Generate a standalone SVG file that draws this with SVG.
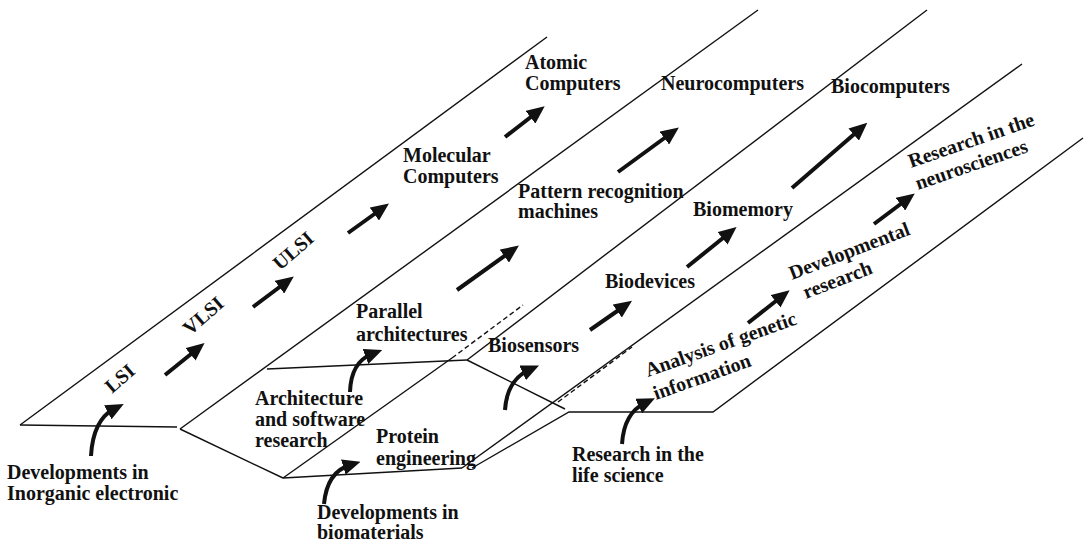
<svg xmlns="http://www.w3.org/2000/svg" width="1084" height="542" viewBox="0 0 1084 542">
<style>
.t{font-family:"Liberation Serif","Times New Roman",serif;font-weight:bold;font-size:20px;fill:#111}
.ln{stroke:#111;stroke-width:1.4;fill:none}
.dash{stroke:#111;stroke-width:1.4;fill:none;stroke-dasharray:5,3}
.ar{stroke:#111;stroke-width:4;fill:none;marker-end:url(#h)}
</style>
<defs>
<marker id="h" markerUnits="userSpaceOnUse" markerWidth="18" markerHeight="16" viewBox="0 0 18 16" refX="7" refY="8" orient="auto">
<path d="M0,0 L18,8 L0,16 z" fill="#111"/>
</marker>
</defs>
<rect width="1084" height="542" fill="#fff"/>
<g id="frame">
<line class="ln" x1="20" y1="425" x2="547" y2="37"/>
<line class="ln" x1="20" y1="425" x2="177" y2="427"/>
<line class="ln" x1="180" y1="429" x2="758" y2="10"/>
<line class="ln" x1="180" y1="429" x2="283" y2="478"/>
<line class="ln" x1="283" y1="478" x2="462" y2="468"/>
<line class="ln" x1="267" y1="369" x2="467" y2="360"/>
<line class="ln" x1="283" y1="478" x2="452" y2="358"/>
<line class="dash" x1="452" y1="358" x2="523" y2="305"/>
<line class="ln" x1="467" y1="360" x2="927" y2="10"/>
<line class="ln" x1="467" y1="360" x2="565" y2="409"/>
<line class="ln" x1="462" y1="468" x2="1022" y2="64"/>
<polyline class="ln" points="472,468 569,412 713,412 1083,138"/>
<line class="dash" x1="558" y1="402" x2="632" y2="347"/>
</g>
<g id="connectors">
<line class="ar" x1="165" y1="375" x2="196" y2="350"/>
<line class="ar" x1="253" y1="307" x2="285" y2="283"/>
<line class="ar" x1="348" y1="233" x2="380" y2="210"/>
<line class="ar" x1="505" y1="137" x2="536" y2="113"/>
<line class="ar" x1="457" y1="290" x2="510" y2="252"/>
<line class="ar" x1="618" y1="172" x2="670" y2="134"/>
<line class="ar" x1="590" y1="330" x2="623" y2="307"/>
<line class="ar" x1="687" y1="267" x2="728" y2="234"/>
<line class="ar" x1="792" y1="188" x2="859" y2="130"/>
<line class="ar" x1="748" y1="323" x2="781" y2="297"/>
<line class="ar" x1="874" y1="224" x2="906" y2="200"/>
<path class="ar" d="M91,456 Q93,420 114,409"/>
<path class="ar" d="M350,392 Q351,362 372,354"/>
<path class="ar" d="M324,504 Q327,472 350,465"/>
<path class="ar" d="M505,410 Q507,380 529,370"/>
<path class="ar" d="M622,444 Q624,413 645,403"/>
</g>
<g id="lsi"><text class="t" transform="translate(112,394) rotate(-41)">LSI</text></g>
<g id="vlsi"><text class="t" transform="translate(190,336) rotate(-41)">VLSI</text></g>
<g id="ulsi"><text class="t" transform="translate(280,271) rotate(-41)">ULSI</text></g>
<g id="molecular"><text class="t" x="403" y="162">Molecular</text><text class="t" x="403" y="183">Computers</text></g>
<g id="atomic"><text class="t" x="525" y="69">Atomic</text><text class="t" x="525" y="90">Computers</text></g>
<g id="neuro"><text class="t" x="661" y="90">Neurocomputers</text></g>
<g id="biocomp"><text class="t" x="831" y="93">Biocomputers</text></g>
<g id="pattern"><text class="t" x="518" y="198">Pattern recognition</text><text class="t" x="518" y="218">machines</text></g>
<g id="biomemory"><text class="t" x="693" y="216">Biomemory</text></g>
<g id="biodevices"><text class="t" x="605" y="288">Biodevices</text></g>
<g id="biosensors"><text class="t" x="488" y="352">Biosensors</text></g>
<g id="parallel"><text class="t" x="356" y="318">Parallel</text><text class="t" x="356" y="341">architectures</text></g>
<g id="architecture"><text class="t" x="255" y="405">Architecture</text><text class="t" x="255" y="426">and software</text><text class="t" x="255" y="447">research</text></g>
<g id="protein"><text class="t" x="376" y="443">Protein</text><text class="t" x="376" y="465">engineering</text></g>
<g id="inorganic"><text class="t" x="7" y="479">Developments in</text><text class="t" x="7" y="500">Inorganic electronic</text></g>
<g id="biomaterials"><text class="t" x="317" y="519">Developments in</text><text class="t" x="317" y="539">biomaterials</text></g>
<g id="lifescience"><text class="t" x="572" y="461">Research in the</text><text class="t" x="572" y="482">life science</text></g>
<g id="analysis"><text class="t" transform="translate(648,377) rotate(-19.5)">Analysis of genetic</text><text class="t" transform="translate(656,400) rotate(-19.5)">information</text></g>
<g id="developmental"><text class="t" transform="translate(792,280) rotate(-21)">Developmental</text><text class="t" transform="translate(806,299) rotate(-21)">research</text></g>
<g id="neurosci"><text class="t" transform="translate(911,168) rotate(-19)">Research in the</text><text class="t" transform="translate(918,190) rotate(-19)">neurosciences</text></g>
</svg>
